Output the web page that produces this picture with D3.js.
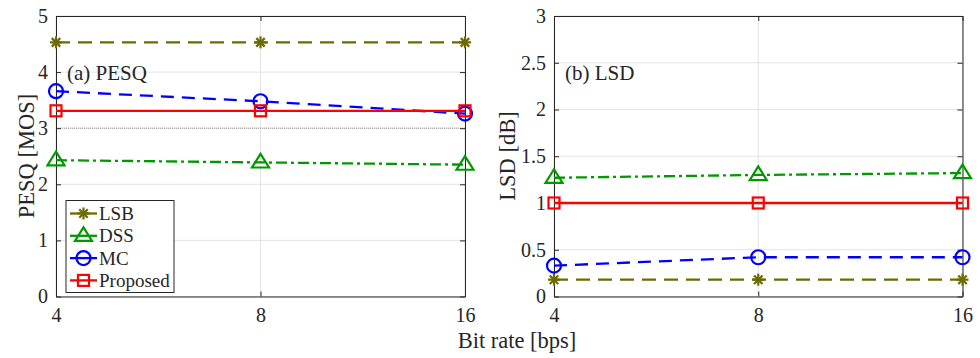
<!DOCTYPE html>
<html>
<head>
<meta charset="utf-8">
<script src="https://cdn.jsdelivr.net/npm/d3@7"></script>
<style>
  body { margin: 0; background: #fff; }
  svg text { font-family: "Liberation Serif", "DejaVu Serif", serif; fill: #262626; }
</style>
</head>
<body>
<script>
'use strict';

// chart data
const bitRates = [4, 8, 16];
const methods = ["LSB", "DSS", "MC", "Proposed"];
const pesqLSB = [4.53, 4.53, 4.53];
const pesqDSS = [2.43, 2.39, 2.35];
const pesqMC = [3.66, 3.48, 3.26];
const pesqProposed = [3.31, 3.31, 3.31];
const lsdLSB = [0.18, 0.18, 0.18];
const lsdDSS = [1.27, 1.30, 1.32];
const lsdMC = [0.33, 0.42, 0.42];
const lsdProposed = [1.0, 1.0, 1.0];
const pesqTicks = [0, 1, 2, 3, 4, 5];
const lsdTicks = [0, 0.5, 1, 1.5, 2, 2.5, 3];

// style per method
const styles = {
  LSB: { color: "#6b6b00", dash: "14,8", marker: "asterisk" },
  DSS: { color: "#009900", dash: "11,4,3,4", marker: "triangle" },
  MC: { color: "#0000ff", dash: "13,8", marker: "circle" },
  Proposed: { color: "#ff0000", dash: null, marker: "square" }
};

const svg = d3.select('body')
  .append('svg')
  .attr('width', 980)
  .attr('height', 358);

// draw one marker at (x, y)
function drawMarker(g, type, x, y, color) {
  if (type === "asterisk") {
    const r = 6;
    [0, 45, 90, 135].forEach(a => {
      const rad = a * Math.PI / 180;
      g.append('line')
        .attr('x1', x - r * Math.cos(rad)).attr('y1', y - r * Math.sin(rad))
        .attr('x2', x + r * Math.cos(rad)).attr('y2', y + r * Math.sin(rad))
        .attr('stroke', color).attr('stroke-width', 2.2);
    });
  } else if (type === "triangle") {
    const s = 8.5;
    g.append('path')
      .attr('d', `M${x},${y - s}L${x + s},${y + s * 0.6}L${x - s},${y + s * 0.6}Z`)
      .attr('fill', 'none').attr('stroke', color).attr('stroke-width', 2.2);
  } else if (type === "circle") {
    g.append('circle')
      .attr('cx', x).attr('cy', y).attr('r', 7)
      .attr('fill', 'none').attr('stroke', color).attr('stroke-width', 2.2);
  } else if (type === "square") {
    g.append('rect')
      .attr('x', x - 5.5).attr('y', y - 5.5)
      .attr('width', 11).attr('height', 11)
      .attr('fill', 'none').attr('stroke', color).attr('stroke-width', 2.2);
  }
}

// draw one panel
function drawPanel(opts) {
  const x = d3.scaleLog().base(2).domain([4, 16]).range([opts.left, opts.right]);
  const y = d3.scaleLinear().domain([opts.ticks[0], opts.ticks[opts.ticks.length - 1]])
    .range([opts.bottom, opts.top]);
  const g = svg.append('g');

  // grid
  g.selectAll('.vgrid').data(bitRates).enter().append('line')
    .attr('x1', d => x(d)).attr('x2', d => x(d))
    .attr('y1', opts.top).attr('y2', opts.bottom)
    .attr('stroke', '#e3e3e3').attr('stroke-width', 1);
  g.selectAll('.hgrid').data(opts.ticks).enter().append('line')
    .attr('x1', opts.left).attr('x2', opts.right)
    .attr('y1', d => y(d)).attr('y2', d => y(d))
    .attr('stroke', '#e3e3e3').attr('stroke-width', 1);

  if (opts.refLine != null) {
    g.append('line')
      .attr('x1', opts.left).attr('x2', opts.right)
      .attr('y1', y(opts.refLine)).attr('y2', y(opts.refLine))
      .attr('stroke', '#999').attr('stroke-width', 1).attr('stroke-dasharray', '1,1');
  }

  // axes (ticks inside, box)
  const fmt = d => String(d);
  const axB = g.append('g').attr('transform', `translate(0,${opts.bottom})`)
    .call(d3.axisBottom(x).tickValues(bitRates).tickFormat(fmt).tickSizeInner(-5).tickSizeOuter(0).tickPadding(11));
  const axT = g.append('g').attr('transform', `translate(0,${opts.top})`)
    .call(d3.axisTop(x).tickValues(bitRates).tickFormat('').tickSizeInner(-5).tickSizeOuter(0));
  const axL = g.append('g').attr('transform', `translate(${opts.left},0)`)
    .call(d3.axisLeft(y).tickValues(opts.ticks).tickFormat(fmt).tickSizeInner(-5).tickSizeOuter(0).tickPadding(8));
  const axR = g.append('g').attr('transform', `translate(${opts.right},0)`)
    .call(d3.axisRight(y).tickValues(opts.ticks).tickFormat('').tickSizeInner(-5).tickSizeOuter(0));
  [axB, axT, axL, axR].forEach(a => {
    a.select('.domain').attr('stroke', '#262626');
    a.selectAll('.tick line').attr('stroke', '#262626');
    a.selectAll('text').style('font-size', '20px')
      .style('font-family', '"Liberation Serif", serif').attr('fill', '#262626');
  });

  // series
  const line = d3.line().x((d, i) => x(bitRates[i])).y(d => y(d));
  opts.series.forEach((vals, k) => {
    const st = styles[methods[k]];
    g.append('path')
      .datum(vals)
      .attr('d', line)
      .attr('fill', 'none')
      .attr('stroke', st.color)
      .attr('stroke-width', 2.3)
      .attr('stroke-dasharray', st.dash);
    vals.forEach((v, i) => drawMarker(g, st.marker, x(bitRates[i]), y(v), st.color));
  });

  // panel label
  g.append('text')
    .attr('x', opts.left + 11).attr('y', opts.labelY)
    .style('font-size', '21px')
    .text(opts.label);

  // y label
  g.append('text')
    .attr('transform', `translate(${opts.yLabelX},156)rotate(-90)`)
    .attr('text-anchor', 'middle')
    .style('font-size', '22.5px')
    .text(opts.yLabel);
}

drawPanel({
  left: 56, right: 465, top: 16, bottom: 296.5,
  ticks: pesqTicks, series: [pesqLSB, pesqDSS, pesqMC, pesqProposed],
  label: "(a) PESQ", labelY: 80, yLabel: "PESQ [MOS]", yLabelX: 34, refLine: 3
});

drawPanel({
  left: 554, right: 962.5, top: 16, bottom: 296.5,
  ticks: lsdTicks, series: [lsdLSB, lsdDSS, lsdMC, lsdProposed],
  label: "(b) LSD", labelY: 80, yLabel: "LSD [dB]", yLabelX: 515, refLine: null
});

// x label
svg.append('text')
  .attr('x', 517).attr('y', 348)
  .attr('text-anchor', 'middle')
  .style('font-size', '22.5px')
  .text('Bit rate [bps]');

// legend
const leg = svg.append('g');
leg.append('rect')
  .attr('x', 66).attr('y', 200.5).attr('width', 108).attr('height', 92)
  .attr('fill', '#fff').attr('stroke', '#262626').attr('stroke-width', 1);
methods.forEach((m, i) => {
  const st = styles[m];
  const cy = 213.5 + i * 22.3;
  leg.append('line')
    .attr('x1', 70).attr('x2', 97).attr('y1', cy).attr('y2', cy)
    .attr('stroke', st.color).attr('stroke-width', 2.3);
  drawMarker(leg, st.marker, 83.5, cy, st.color);
  leg.append('text')
    .attr('x', 99).attr('y', cy + 6.5)
    .style('font-size', '19px')
    .text(m);
});
</script>
</body>
</html>
